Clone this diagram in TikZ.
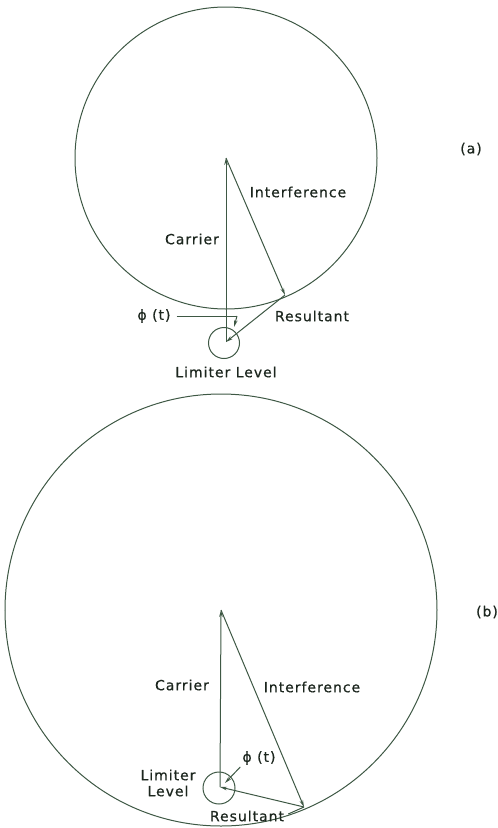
\documentclass[tikz,border=0pt]{standalone}
\usepackage{fontspec}
\newfontfamily\lblfont[LetterSpace=7,FakeBold=0.6]{DejaVu Sans}
\usetikzlibrary{arrows.meta}
\definecolor{linec}{RGB}{62,88,68}
\definecolor{textc}{RGB}{28,38,30}
\tikzset{
  vec/.style={draw=linec, line width=1pt, -{Stealth[length=7pt,width=3.6pt]}},
  plain/.style={draw=linec, line width=1pt},
  lbl/.style={text=textc, font=\lblfont\fontsize{14}{16}\selectfont, inner sep=0pt},
}
\begin{document}
\begin{tikzpicture}[x=1pt,y=-1pt]
\useasboundingbox (0,0) rectangle (498,828);
% ---------- (a) ----------
\coordinate (Ta) at (226,158);
\coordinate (Oa) at (226,342);
\coordinate (Ra) at (285,295);
\coordinate (Pa1) at (237,316);
\coordinate (Pa2) at (234,327);
\draw[plain] (Ta) circle (151);
\draw[plain] (224,343) circle (15.5);
\draw[vec] (Oa) -- (Ta);
\draw[vec] (Ta) -- (Ra);
\draw[vec] (Ra) -- (Oa);
\node[lbl] (intA) at (298,192) {Interference};
\node[lbl] (carA) at (192,239) {Carrier};
\node[lbl] (resA) at (312,316) {Resultant};
\node[lbl] (phiA) at (154,316) {ϕ (t)};
\node[lbl] (limA) at (226,372) {Limiter Level};
\node[lbl] (labA) at (471,149) {(a)};
\draw[plain] (phiA.east) ++(6,0) -- (Pa1);
\draw[vec] (Pa1) -- (Pa2);
% ---------- (b) ----------
\coordinate (Tb) at (221,610);
\coordinate (Ob) at (220,787);
\coordinate (Rb) at (304,807);
\coordinate (Pb) at (225,783);
\draw[plain] (Tb) circle (216);
\draw[plain] (219,788) circle (16);
\draw[vec] (Ob) -- (Tb);
\draw[vec] (Tb) -- (Rb);
\draw[vec] (Rb) -- (Ob);
\node[lbl] (carB) at (182,685) {Carrier};
\node[lbl] (intB) at (312,687) {Interference};
\node[lbl] (phiB) at (259,758) {ϕ (t)};
\node[lbl, align=center] (limB) at (168,783) {Limiter\\Level};
\node[lbl] (resB) at (247,816) {Resultant};
\node[lbl] (labB) at (487,612) {(b)};
\draw[vec] (phiB.south west) ++(-2,2) -- (Pb);
\draw[plain] (resB.east) ++(4,-2) -- (Rb);
\end{tikzpicture}
\end{document}
